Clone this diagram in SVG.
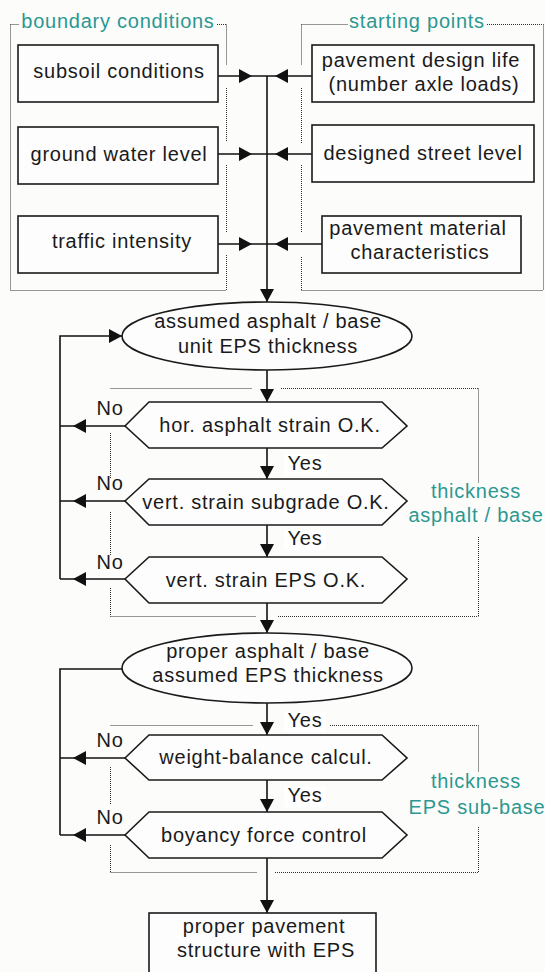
<svg xmlns="http://www.w3.org/2000/svg" width="545" height="972" viewBox="0 0 545 972">
<style>
.bg{fill:#fcfcfb}
.box{fill:#fdfdfd;stroke:#1a1a1a;stroke-width:1.6}
.dot{fill:none;stroke:#333;stroke-width:1;stroke-dasharray:1 1}
.t{font-family:"Liberation Sans",Arial,sans-serif;font-size:20px;letter-spacing:0.75px;fill:#1a1a1a;text-anchor:middle}
.lab{font-family:"Liberation Sans",Arial,sans-serif;font-size:20px;letter-spacing:0.75px;fill:#2b9891;text-anchor:middle}
.c{fill:none;stroke:#111;stroke-width:1.6}
.ca{fill:none;stroke:#111;stroke-width:1.6;marker-end:url(#ah)}
.lbg{fill:#ffffff}
</style>
<defs>
<marker id="ah" markerUnits="userSpaceOnUse" markerWidth="14" markerHeight="14" refX="13" refY="7" orient="auto">
<path d="M0,0 L13,7 L0,14 z" fill="#111"/>
</marker>
</defs>
<rect class="bg" x="0" y="0" width="545" height="972"/>

<g id="groups">
<g id="boundary-group">
<path class="dot" d="M10.5,24.5 H19 M217,24.5 H226.5 M10.5,24.5 V290.5 M10.5,290.5 H226.5 M226.5,24.5 V65 M226.5,88 V142 M226.5,165 V232 M226.5,255 V290.5"/>
<text class="lab" x="118" y="28">boundary conditions</text>
</g>
<g id="starting-group">
<path class="dot" d="M301.5,24.5 H348 M487,24.5 H543.5 M543.5,24.5 V290.5 M301.5,290.5 H543.5 M301.5,24.5 V65 M301.5,88 V143 M301.5,165 V232 M301.5,257 V290.5"/>
<text class="lab" x="417" y="28">starting points</text>
</g>
<g id="asphalt-group">
<path class="dot" d="M110.5,388.5 H252 M281,388.5 H478.5 M478.5,388.5 V483 M478.5,537 V616.5 M110.5,616.5 H256 M278,616.5 H478.5 M110.5,433 V478 M110.5,512 V555 M110.5,588 V616.5"/>
<text class="lab" x="476" y="498">thickness</text>
<text class="lab" x="476" y="522">asphalt / base</text>
</g>
<g id="eps-group">
<path class="dot" d="M110.5,725.5 H253 M330,725.5 H478.5 M478.5,725.5 V772 M478.5,827 V872.5 M110.5,872.5 H257 M275,872.5 H478.5 M110.5,767 V805 M110.5,845 V872.5"/>
<text class="lab" x="476" y="788">thickness</text>
<text class="lab" x="477" y="814">EPS sub-base</text>
</g>
</g>

<g id="connectors">
<path class="ca" d="M218,76 H252"/>
<path class="ca" d="M218,154 H252"/>
<path class="ca" d="M218,244 H252"/>
<path class="ca" d="M312,76 H275"/>
<path class="ca" d="M312,154 H275"/>
<path class="ca" d="M322,244 H275"/>
<path class="c" d="M252,76 H275 M252,154 H275 M252,244 H275"/>
<path class="ca" d="M267,76 V302"/>
<path class="ca" d="M267,370 V402"/>
<path class="ca" d="M267,448 V479"/>
<path class="ca" d="M267,525 V557"/>
<path class="ca" d="M267,603 V633"/>
<path class="ca" d="M267,703 V735"/>
<path class="ca" d="M267,780 V812"/>
<path class="ca" d="M267,858 V913"/>
<path class="ca" d="M125,426 H73"/>
<path class="ca" d="M125,501 H73"/>
<path class="ca" d="M125,579 H73"/>
<path class="ca" d="M125,758 H73"/>
<path class="ca" d="M125,835 H73"/>
<path class="c" d="M73,426 H60 M73,501 H60 M73,579 H60 M73,758 H60 M73,835 H60"/>
<path class="ca" d="M60,579 V336 H122"/>
<path class="c" d="M122,669 H60 V835"/>
<rect class="lbg" x="284" y="454" width="42" height="20"/>
<text class="t" x="305" y="470">Yes</text>
<rect class="lbg" x="284" y="530" width="42" height="20"/>
<text class="t" x="305" y="545">Yes</text>
<rect class="lbg" x="284" y="712" width="42" height="20"/>
<text class="t" x="305" y="727">Yes</text>
<rect class="lbg" x="284" y="787" width="42" height="20"/>
<text class="t" x="305" y="802">Yes</text>
<text class="t" x="110" y="415">No</text>
<text class="t" x="110" y="490">No</text>
<text class="t" x="110" y="569">No</text>
<text class="t" x="110" y="747">No</text>
<text class="t" x="110" y="824">No</text>
</g>

<g id="subsoil">
<rect class="box" x="18" y="45" width="200" height="57"/>
<text class="t" x="119" y="78">subsoil conditions</text>
</g>
<g id="groundwater">
<rect class="box" x="18" y="127" width="200" height="57"/>
<text class="t" x="119" y="161">ground water level</text>
</g>
<g id="traffic">
<rect class="box" x="18" y="216" width="200" height="57"/>
<text class="t" x="122" y="248">traffic intensity</text>
</g>
<g id="designlife">
<rect class="box" x="312" y="45" width="222" height="57"/>
<text class="t" x="421" y="67">pavement design life</text>
<text class="t" x="424" y="91">(number axle loads)</text>
</g>
<g id="streetlevel">
<rect class="box" x="312" y="125" width="222" height="57"/>
<text class="t" x="423" y="160">designed street level</text>
</g>
<g id="material">
<rect class="box" x="322" y="216" width="199" height="57"/>
<text class="t" x="418" y="235">pavement material</text>
<text class="t" x="420" y="259">characteristics</text>
</g>
<g id="assumed1">
<ellipse class="box" cx="267" cy="336" rx="145" ry="34"/>
<text class="t" x="268" y="328">assumed asphalt / base</text>
<text class="t" x="268" y="353">unit EPS thickness</text>
</g>
<g id="hor-strain">
<polygon class="box" points="125,426 149,402 382,402 407,426 382,448 149,448"/>
<text class="t" x="270" y="432">hor. asphalt strain O.K.</text>
</g>
<g id="vert-subgrade">
<polygon class="box" points="125,501 149,479 382,479 407,501 382,525 149,525"/>
<text class="t" x="266" y="509">vert. strain subgrade O.K.</text>
</g>
<g id="vert-eps">
<polygon class="box" points="125,579 149,557 382,557 407,579 382,603 149,603"/>
<text class="t" x="266" y="587">vert. strain EPS O.K.</text>
</g>
<g id="assumed2">
<ellipse class="box" cx="267" cy="668" rx="145" ry="35"/>
<text class="t" x="268" y="658">proper asphalt / base</text>
<text class="t" x="268" y="682">assumed EPS thickness</text>
</g>
<g id="weight-balance">
<polygon class="box" points="125,758 149,735 382,735 407,758 382,780 149,780"/>
<text class="t" x="266" y="764">weight-balance calcul.</text>
</g>
<g id="boyancy">
<polygon class="box" points="125,835 149,812 382,812 407,835 382,858 149,858"/>
<text class="t" x="264" y="842">boyancy force control</text>
</g>
<g id="result">
<rect class="box" x="149" y="913" width="227" height="70"/>
<text class="t" x="264" y="933">proper pavement</text>
<text class="t" x="266" y="957">structure with EPS</text>
</g>
</svg>
